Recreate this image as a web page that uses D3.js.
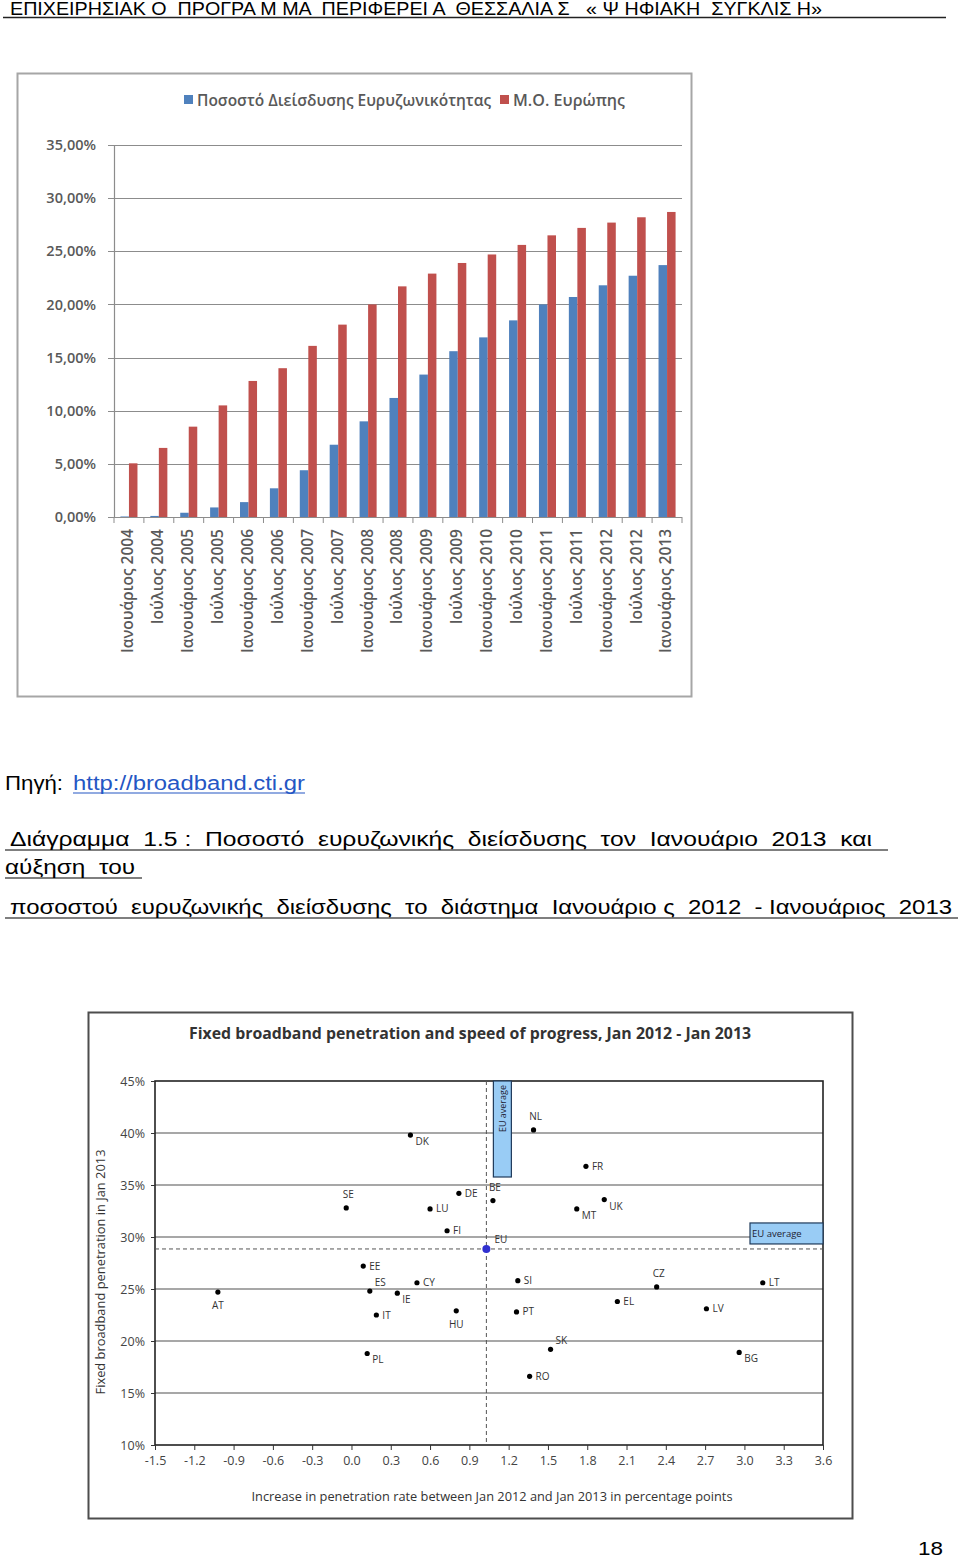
<!DOCTYPE html>
<html><head><meta charset="utf-8">
<script src="https://cdn.jsdelivr.net/npm/d3@7"></script>
<style>
html,body{margin:0;padding:0;background:#fff;}
svg{display:block;}
text{white-space:pre;}
</style></head>
<body>
<script>
// ---------- DATA ----------
const categories = ["Ιανουάριος 2004","Ιούλιος 2004","Ιανουάριος 2005","Ιούλιος 2005","Ιανουάριος 2006","Ιούλιος 2006","Ιανουάριος 2007","Ιούλιος 2007","Ιανουάριος 2008","Ιούλιος 2008","Ιανουάριος 2009","Ιούλιος 2009","Ιανουάριος 2010","Ιούλιος 2010","Ιανουάριος 2011","Ιούλιος 2011","Ιανουάριος 2012","Ιούλιος 2012","Ιανουάριος 2013"];
const greeceValues = [0.05,0.1,0.4,0.9,1.4,2.7,4.4,6.8,9.0,11.2,13.4,15.6,16.9,18.5,20.0,20.7,21.8,22.7,23.7];
const europeValues = [5.05,6.5,8.5,10.5,12.8,14.0,16.1,18.1,20.0,21.7,22.9,23.9,24.7,25.6,26.5,27.2,27.7,28.2,28.7];
const seriesNames = ["Ποσοστό Διείσδυσης Ευρυζωνικότητας","Μ.Ο. Ευρώπης"];
const barYTicks = [0,5,10,15,20,25,30,35];

const countries   = ["DK","SE","DE","LU","FI","EE","BE","NL","FR","UK","MT","AT","ES","IE","CY","IT","HU","PL","SI","CZ","LT","EL","LV","PT","SK","BG","RO"];
const growth      = [0.45,-0.04,0.82,0.60,0.73,0.09,1.08,1.39,1.79,1.93,1.72,-1.02,0.14,0.35,0.50,0.19,0.80,0.12,1.27,2.33,3.14,2.03,2.71,1.26,1.52,2.96,1.36];
const penetration = [39.8,32.8,34.2,32.7,30.6,27.2,33.5,40.3,36.8,33.6,32.7,24.7,24.8,24.6,25.6,22.5,22.9,18.8,25.8,25.2,25.6,23.8,23.1,22.8,19.2,18.9,16.6];
const euGrowth = 1.03, euPenetration = 28.85;
const scatterXTicks = [-1.5,-1.2,-0.9,-0.6,-0.3,0.0,0.3,0.6,0.9,1.2,1.5,1.8,2.1,2.4,2.7,3.0,3.3,3.6];
const scatterYTicks = [10,15,20,25,30,35,40,45];

// ---------- PAGE ----------
const svg = d3.select("body").append("svg").attr("width",960).attr("height",1561);
const SANS = "'Liberation Sans', Arial, sans-serif";
const CAL = "'Open Sans', 'Noto Sans', sans-serif";

function fitText(g, x, y, str, len, size, opts={}) {
  const t = g.append("text").attr("x",x).attr("y",y).text(str)
    .attr("font-family", opts.family || SANS).attr("font-size", size)
    .attr("fill", opts.fill || "#000");
  if (opts.weight) t.attr("font-weight", opts.weight);
  if (opts.anchor) t.attr("text-anchor", opts.anchor);
  if (len) t.attr("textLength", len).attr("lengthAdjust","spacingAndGlyphs");
  return t;
}
function hline(x1,x2,y,w,c){ svg.append("line").attr("x1",x1).attr("x2",x2).attr("y1",y).attr("y2",y).attr("stroke",c||"#000").attr("stroke-width",w||1); }

// Header
fitText(svg, 10, 15, "ΕΠΙΧΕΙΡΗΣΙΑΚ Ο  ΠΡΟΓΡΑ Μ ΜΑ  ΠΕΡΙΦΕΡΕΙ Α  ΘΕΣΣΑΛΙΑ Σ   « Ψ ΗΦΙΑΚΗ  ΣΥΓΚΛΙΣ Η»", 812, 18);
hline(3, 946, 17.5, 1.3, "#222");

// ---------- BAR CHART ----------
const bc = svg.append("g");
bc.append("rect").attr("x",17.5).attr("y",73.5).attr("width",674).attr("height",623)
  .attr("fill","#fff").attr("stroke","#a6a6a6").attr("stroke-width",2);

const by = d3.scaleLinear().domain([0,35]).range([517,145]);
const bx = d3.scaleBand().domain(categories).range([114,682]).paddingInner(0.43).paddingOuter(0.215);
const bsub = d3.scaleBand().domain([0,1]).range([0,bx.bandwidth()]);
const barColors = ["#4F81BD","#C0504D"];

bc.append("g").selectAll("line").data(barYTicks).join("line")
  .attr("x1",108).attr("x2",682).attr("y1",d=>Math.round(by(d))+0.5).attr("y2",d=>Math.round(by(d))+0.5)
  .attr("stroke","#8c8c8c").attr("stroke-width",1.2);
const yAx = d3.axisLeft(by).tickValues(barYTicks).tickSize(0).tickPadding(18)
  .tickFormat(d=>d3.format(".2f")(d).replace(".",",")+"%");
const yg = bc.append("g").attr("transform","translate(114,0)").call(yAx);
yg.select(".domain").attr("stroke","#8c8c8c").attr("stroke-width",1.2);
yg.selectAll("text").attr("font-family",CAL).attr("font-size",14.5).attr("fill","#595959").attr("font-weight",600);

const step = bx.step();
bc.append("g").selectAll("line").data(d3.range(categories.length+1)).join("line")
  .attr("x1",i=>114+i*step).attr("x2",i=>114+i*step).attr("y1",517).attr("y2",523)
  .attr("stroke","#8c8c8c");

const series = [greeceValues, europeValues];
series.forEach((vals,si)=>{
  bc.append("g").selectAll("rect").data(vals).join("rect")
    .attr("x",(d,i)=>bx(categories[i])+bsub(si))
    .attr("width",bsub.bandwidth())
    .attr("y",d=>by(d)).attr("height",d=>by(0)-by(d))
    .attr("fill",barColors[si]);
});
bc.append("g").selectAll("text").data(categories).join("text")
  .attr("transform",d=>`translate(${bx(d)+bx.bandwidth()/2-1},529) rotate(-90)`)
  .attr("text-anchor","end").attr("dy","0.35em")
  .attr("font-family",CAL).attr("font-size",15.5).attr("fill","#595959").attr("font-weight",600)
  .text(d=>d);

const lg = bc.append("g");
lg.append("rect").attr("x",184).attr("y",95).attr("width",9).attr("height",9).attr("fill",barColors[0]);
fitText(lg, 197, 106, seriesNames[0], 294, 16, {family:CAL, fill:"#595959", weight:600});
lg.append("rect").attr("x",500).attr("y",95).attr("width",9).attr("height",9).attr("fill",barColors[1]);
fitText(lg, 513, 106, seriesNames[1], 112, 16, {family:CAL, fill:"#595959", weight:600});

// ---------- TEXT BLOCK ----------
fitText(svg, 5, 790, "Πηγή:", 58, 20);
fitText(svg, 73, 790, "http://broadband.cti.gr", 232, 20, {fill:"#2456c4"});
hline(73, 305, 793, 1.2, "#2456c4");

fitText(svg, 10, 846, "Διάγραμμα  1.5 :  Ποσοστό  ευρυζωνικής  διείσδυσης  τον  Ιανουάριο  2013  και", 862, 20);
hline(5, 888, 850, 1.2);
fitText(svg, 5, 874, "αύξηση  του", 130, 20);
hline(5, 142, 878, 1.2);
fitText(svg, 10, 914, "ποσοστού  ευρυζωνικής  διείσδυσης  το  διάστημα  Ιανουάριο ς  2012  - Ιανουάριος  2013", 942, 20);
hline(5, 958, 918, 1.2);

fitText(svg, 918, 1555, "18", 25, 19);

// ---------- SCATTER ----------
const sc = svg.append("g");
sc.append("rect").attr("x",88.5).attr("y",1012.5).attr("width",764).attr("height",506)
  .attr("fill","#fff").attr("stroke","#4d4d4d").attr("stroke-width",2);
fitText(sc, 470, 1039, "Fixed broadband penetration and speed of progress, Jan 2012 - Jan 2013", 562, 16, {family:CAL, anchor:"middle", weight:700, fill:"#333"});

const sx = d3.scaleLinear().domain([-1.5,3.6]).range([155,823]);
const sy = d3.scaleLinear().domain([10,45]).range([1445,1081]);

sc.append("g").selectAll("line").data(scatterYTicks.filter(d=>d>10&&d<45)).join("line")
  .attr("x1",155).attr("x2",823).attr("y1",d=>sy(d)).attr("y2",d=>sy(d))
  .attr("stroke","#8a8a8a").attr("stroke-width",1.3);
sc.append("rect").attr("x",155).attr("y",sy(45)).attr("width",sx(3.6)-155).attr("height",sy(10)-sy(45))
  .attr("fill","none").attr("stroke","#222").attr("stroke-width",1.6);

const sxAx = d3.axisBottom(sx).tickValues(scatterXTicks).tickSize(5).tickPadding(6)
  .tickFormat(d=>d3.format(".1f")(d).replace("−","-"));
const sxg = sc.append("g").attr("transform",`translate(0,${sy(10)})`).call(sxAx);
sxg.select(".domain").remove();
sxg.selectAll("line").attr("stroke","#333");
sxg.selectAll("text").attr("font-family",CAL).attr("font-size",12.5).attr("fill","#444");
const syAx = d3.axisLeft(sy).tickValues(scatterYTicks).tickSize(4).tickPadding(6).tickFormat(d=>d+"%");
const syg = sc.append("g").attr("transform","translate(155,0)").call(syAx);
syg.select(".domain").remove();
syg.selectAll("line").attr("stroke","#333");
syg.selectAll("text").attr("font-family",CAL).attr("font-size",12.5).attr("fill","#444");

sc.append("text").attr("transform","translate(105,1272) rotate(-90)").attr("text-anchor","middle")
  .attr("font-family",CAL).attr("font-size",12.5).attr("fill","#333")
  .attr("textLength",245).attr("lengthAdjust","spacingAndGlyphs")
  .text("Fixed broadband penetration in Jan 2013");
fitText(sc, 492, 1501, "Increase in penetration rate between Jan 2012 and Jan 2013 in percentage points", 481, 12.5, {family:CAL, anchor:"middle", fill:"#333"});

sc.append("line").attr("x1",sx(euGrowth)).attr("x2",sx(euGrowth)).attr("y1",sy(45)).attr("y2",sy(10))
  .attr("stroke","#555").attr("stroke-width",1).attr("stroke-dasharray","4,3");
sc.append("line").attr("x1",155).attr("x2",sx(3.6)).attr("y1",sy(euPenetration)).attr("y2",sy(euPenetration))
  .attr("stroke","#555").attr("stroke-width",1).attr("stroke-dasharray","4,3");
sc.append("rect").attr("x",sx(euGrowth)+7).attr("y",sy(45)).attr("width",18).attr("height",96)
  .attr("fill","#99ccf5").attr("stroke","#1f3a5a").attr("stroke-width",1.2);
sc.append("text").attr("transform",`translate(${sx(euGrowth)+16},${sy(45)+4}) rotate(-90)`)
  .attr("text-anchor","end").attr("dy","0.35em").attr("font-family",CAL).attr("font-size",9).attr("fill","#223")
  .text("EU average");
sc.append("rect").attr("x",750).attr("y",sy(euPenetration)-26).attr("width",sx(3.6)-750).attr("height",21)
  .attr("fill","#99ccf5").attr("stroke","#1f3a5a").attr("stroke-width",1.2);
sc.append("text").attr("x",752).attr("y",sy(euPenetration)-15).attr("dy","0.35em")
  .attr("font-family",CAL).attr("font-size",9.5).attr("fill","#223").text("EU average");

const labelPos = {DK:"br",SE:"a",DE:"r",LU:"r",FI:"r",EE:"r",BE:"a",NL:"a",FR:"r",UK:"br",MT:"br",AT:"b",ES:"ar",IE:"br",CY:"r",IT:"r",HU:"b",PL:"br",SI:"r",CZ:"a",LT:"r",EL:"r",LV:"r",PT:"r",SK:"ar",BG:"br",RO:"r"};
const pts = countries.map((c,i)=>({c, x:growth[i], y:penetration[i]}));
sc.append("g").selectAll("circle").data(pts).join("circle")
  .attr("cx",d=>sx(d.x)).attr("cy",d=>sy(d.y)).attr("r",2.6).attr("fill","#000");
sc.append("g").selectAll("text").data(pts).join("text")
  .attr("font-family",CAL).attr("font-size",10).attr("fill","#333")
  .each(function(d){
    const p = labelPos[d.c], t = d3.select(this);
    let x = sx(d.x), y = sy(d.y), anchor = "start";
    if (p==="r"){ x+=6; y+=3.5; }
    else if (p==="br"){ x+=5; y+=10; }
    else if (p==="b"){ y+=17; anchor="middle"; }
    else if (p==="a"){ y-=10; anchor="middle"; x+=2; }
    else if (p==="ar"){ x+=5; y-=5; }
    t.attr("x",x).attr("y",y).attr("text-anchor",anchor).text(d.c);
  });
sc.append("circle").attr("cx",sx(euGrowth)).attr("cy",sy(euPenetration)).attr("r",4).attr("fill","#3030d0");
sc.append("text").attr("x",sx(euGrowth)+8).attr("y",sy(euPenetration)-6)
  .attr("font-family",CAL).attr("font-size",10).attr("fill","#333").text("EU");
</script>
</body></html>
